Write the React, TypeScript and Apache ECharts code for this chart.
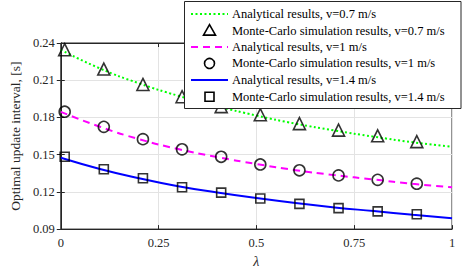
import React, { useEffect, useRef } from "react";
import * as echarts from "echarts";

const lambdaLine = [0, 0.1, 0.2, 0.3, 0.4, 0.5, 0.6, 0.7, 0.8, 0.9, 1];
const anaV07 = [0.2345, 0.2195, 0.2075, 0.1975, 0.189, 0.1815, 0.175, 0.1695, 0.1645, 0.16, 0.1563];
const anaV10 = [0.1845, 0.1725, 0.1625, 0.1545, 0.148, 0.1425, 0.1375, 0.1335, 0.13, 0.1265, 0.1237];
const anaV14 = [0.1475, 0.1385, 0.131, 0.1245, 0.1195, 0.115, 0.111, 0.1075, 0.1045, 0.1015, 0.0988];

const lambdaMC = [0.01, 0.11, 0.21, 0.31, 0.41, 0.51, 0.61, 0.71, 0.81, 0.91];
const mcV07 = [0.2346, 0.219, 0.2066, 0.1967, 0.1887, 0.1822, 0.175, 0.1698, 0.1652, 0.1605];
const mcV10 = [0.1846, 0.1724, 0.1625, 0.1543, 0.1483, 0.1421, 0.1374, 0.1333, 0.1297, 0.1266];
const mcV14 = [0.1483, 0.1382, 0.131, 0.1237, 0.1194, 0.1147, 0.1103, 0.1069, 0.1043, 0.102];

const names = [
  "Analytical results, v=0.7 m/s",
  "Monte-Carlo simulation results, v=0.7 m/s",
  "Analytical results, v=1 m/s",
  "Monte-Carlo simulation results, v=1 m/s",
  "Analytical results, v=1.4 m/s",
  "Monte-Carlo simulation results, v=1.4 m/s",
];

const FONT = "Liberation Serif";
const AX = "#262626";
const GREEN = "#00ff00";
const MAGENTA = "#ff00ff";
const BLUE = "#0000ff";
const DOT = [2, 2.5];
const DASH = [7, 5];

const zip = (xs: number[], ys: number[]) => xs.map((x, i) => [x, ys[i]]);

export default function App() {
  const ref = useRef<HTMLDivElement>(null);
  useEffect(() => {
    if (!ref.current) return;
    const chart = echarts.init(ref.current, undefined, { renderer: "svg" });
    const lineSeries = (name: string, data: number[], color: string, type: any) => ({
      name,
      type: "line",
      data: zip(lambdaLine, data),
      smooth: true,
      symbol: "none",
      lineStyle: { color, width: 2, type },
      itemStyle: { color },
      z: 2,
    });
    const mcSeries = (name: string, data: number[], symbol: string, size: number) => ({
      name,
      type: "scatter",
      data: zip(lambdaMC, data),
      symbol,
      symbolSize: size,
      itemStyle: { color: "transparent", borderColor: "#000", borderWidth: 1.6 },
      z: 3,
    });

    // manual legend
    const lx0 = 191, lx1 = 228, sx = 209.5, tx = 232;
    const rowsY = [14, 30.6, 47, 63.4, 80, 96.8];
    const legendEls: any[] = [
      {
        type: "rect",
        shape: { x: 184.5, y: 1.5, width: 276.5, height: 107 },
        style: { fill: "#fff", stroke: AX, lineWidth: 1 },
        z: 100,
      },
    ];
    const lineStyles = [
      { stroke: GREEN, lineDash: DOT },
      { stroke: MAGENTA, lineDash: DASH },
      { stroke: BLUE, lineDash: null },
    ];
    for (let k = 0; k < 3; k++) {
      const yl = rowsY[2 * k];
      legendEls.push({
        type: "line",
        shape: { x1: lx0, y1: yl, x2: lx1, y2: yl },
        style: { stroke: lineStyles[k].stroke, lineWidth: 2, lineDash: lineStyles[k].lineDash as any },
        z: 101,
      });
      const ym = rowsY[2 * k + 1];
      const mstyle = { fill: "none", stroke: "#000", lineWidth: 1.6 };
      if (k === 0) {
        legendEls.push({
          type: "polygon",
          shape: { points: [[sx, ym - 6], [sx - 6, ym + 4.5], [sx + 6, ym + 4.5]] },
          style: mstyle,
          z: 101,
        });
      } else if (k === 1) {
        legendEls.push({ type: "circle", shape: { cx: sx, cy: ym, r: 5 }, style: mstyle, z: 101 });
      } else {
        legendEls.push({ type: "rect", shape: { x: sx - 4.5, y: ym - 4.5, width: 9, height: 9 }, style: mstyle, z: 101 });
      }
    }
    names.forEach((n, i) => {
      legendEls.push({
        type: "text",
        x: tx,
        y: rowsY[i],
        style: { text: n, fontFamily: FONT, fontSize: 12.5, fill: "#000", textVerticalAlign: "middle", verticalAlign: "middle" },
        z: 101,
      });
    });

    chart.setOption({
      animation: false,
      backgroundColor: "#fff",
      textStyle: { fontFamily: FONT },
      grid: { left: 50, right: 11, top: 43, bottom: 37, show: true, borderColor: AX, borderWidth: 1 },
      graphic: legendEls,
      xAxis: [
        {
          type: "value",
          min: 0,
          max: 1,
          interval: 0.25,
          name: "λ",
          nameLocation: "middle",
          nameGap: 24,
          nameTextStyle: { fontFamily: FONT, fontSize: 14, fontStyle: "italic", color: AX },
          axisLine: { show: true, lineStyle: { color: AX } },
          axisTick: { show: true, inside: true, length: 4, lineStyle: { color: AX } },
          axisLabel: { fontFamily: FONT, fontSize: 12.5, color: AX, margin: 7 },
          splitLine: { show: true, lineStyle: { color: "#e3e3e3" } },
        },
        {
          type: "value",
          position: "top",
          min: 0,
          max: 1,
          interval: 0.25,
          axisLine: { show: true, lineStyle: { color: AX } },
          axisTick: { show: true, inside: true, length: 4, lineStyle: { color: AX } },
          axisLabel: { show: false },
          splitLine: { show: false },
        },
      ],
      yAxis: [
        {
          type: "value",
          min: 0.09,
          max: 0.24,
          interval: 0.03,
          name: "Optimal update interval, [s]",
          nameLocation: "middle",
          nameGap: 34,
          nameTextStyle: { fontFamily: FONT, fontSize: 13.5, color: AX },
          axisLine: { show: true, lineStyle: { color: AX } },
          axisTick: { show: true, inside: true, length: 4, lineStyle: { color: AX } },
          axisLabel: { fontFamily: FONT, fontSize: 12.5, color: AX, margin: 6, formatter: (v: number) => v.toFixed(2) },
          splitLine: { show: true, lineStyle: { color: "#e3e3e3" } },
        },
        {
          type: "value",
          position: "right",
          min: 0.09,
          max: 0.24,
          interval: 0.03,
          axisLine: { show: true, lineStyle: { color: AX } },
          axisTick: { show: true, inside: true, length: 4, lineStyle: { color: AX } },
          axisLabel: { show: false },
          splitLine: { show: false },
        },
      ],
      series: [
        lineSeries(names[0], anaV07, GREEN, DOT),
        mcSeries(names[1], mcV07, "triangle", 12),
        lineSeries(names[2], anaV10, MAGENTA, DASH),
        mcSeries(names[3], mcV10, "circle", 11),
        lineSeries(names[4], anaV14, BLUE, "solid"),
        mcSeries(names[5], mcV14, "rect", 9),
      ],
    });
    return () => chart.dispose();
  }, []);
  return <div ref={ref} style={{ width: 463, height: 273, position: "absolute", left: 0, top: 0 }} />;
}
